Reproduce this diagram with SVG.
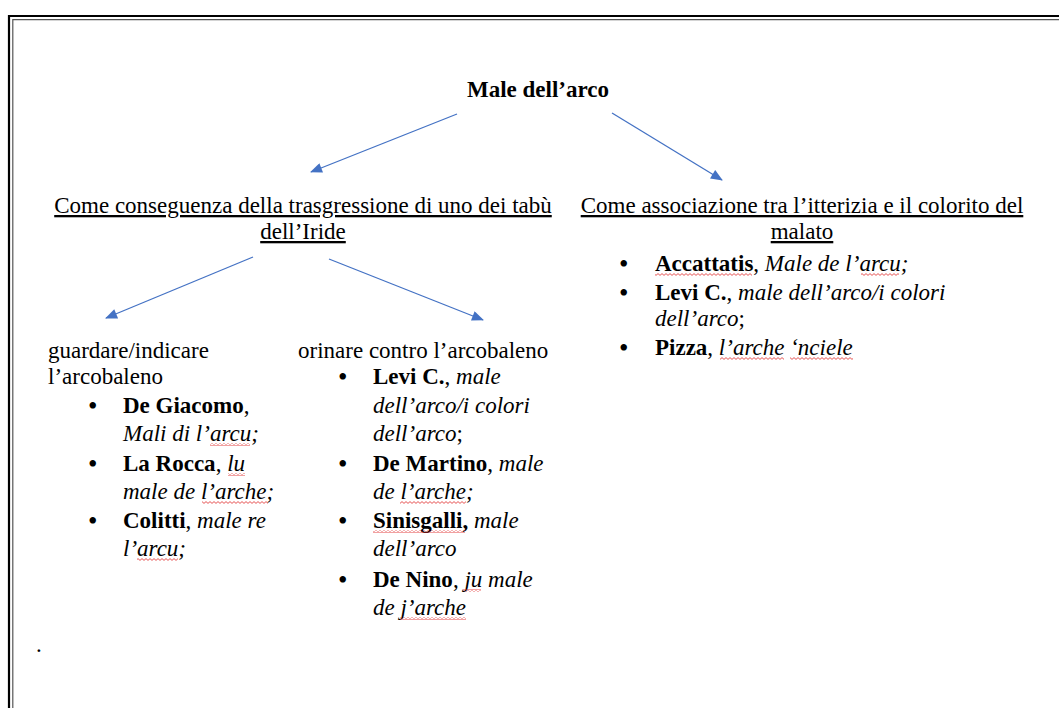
<svg xmlns="http://www.w3.org/2000/svg" width="1059" height="708" viewBox="0 0 1059 708">
<style>
text{font-family:"Liberation Serif","Times New Roman",serif;font-size:23px;fill:#000}
.b{font-weight:bold}
.i{font-style:italic}
.u{text-decoration:underline}
.bu{font-size:27px}
.arr{stroke:#4472c4;stroke-width:1.3;fill:none;marker-end:url(#ah)}
.wv{fill:url(#wave)}
</style>
<defs>
<marker id="ah" viewBox="0 0 12 10" refX="11" refY="5" markerWidth="13" markerHeight="10" markerUnits="userSpaceOnUse" orient="auto">
<path d="M0,0 L12,5 L0,10 Z" fill="#4472c4"/>
</marker>
<pattern id="wave" width="4" height="3" patternUnits="userSpaceOnUse">
<polyline points="0,2.4 2,0.6 4,2.4" fill="none" stroke="#e02828" stroke-width="0.8"/>
</pattern>
</defs>
<rect width="1059" height="708" fill="#fff"/>
<g id="frame">
<path d="M9,720 V16 H1070" fill="none" stroke="#000" stroke-width="2.2"/>
<path d="M12.8,720 V19.6 H1070" fill="none" stroke="#555" stroke-width="1.2"/>
</g>
<g id="connectors">
<line class="arr" x1="457" y1="114" x2="311" y2="172"/>
<line class="arr" x1="612" y1="113" x2="722" y2="180"/>
<line class="arr" x1="253" y1="257" x2="106" y2="318"/>
<line class="arr" x1="329" y1="259" x2="483" y2="320"/>
</g>
<g id="root">
<text class="b" x="538" y="97" text-anchor="middle">Male dell’arco</text>
</g>
<g id="tabu">
<text class="u" x="303" y="213" text-anchor="middle">Come conseguenza della trasgressione di uno dei tabù</text>
<text class="u" x="303" y="239" text-anchor="middle">dell’Iride</text>
</g>
<g id="itterizia">
<text class="u" x="802" y="213" text-anchor="middle">Come associazione tra l’itterizia e il colorito del</text>
<text class="u" x="802" y="239" text-anchor="middle">malato</text>
<text class="bu" x="619" y="273">•</text>
<text x="655" y="271"><tspan class="b">Accattatis</tspan>, <tspan class="i">Male de l’arcu;</tspan></text>
<text class="bu" x="619" y="302">•</text>
<text x="655" y="300"><tspan class="b">Levi C.</tspan>, <tspan class="i">male dell’arco/i colori</tspan></text>
<text x="655" y="326"><tspan class="i">dell’arco</tspan>;</text>
<text class="bu" x="619" y="357">•</text>
<text x="655" y="355"><tspan class="b">Pizza</tspan>, <tspan class="i">l’arche ‘nciele</tspan></text>
</g>
<g id="guardare">
<text x="48" y="358">guardare/indicare</text>
<text x="48" y="384">l’arcobaleno</text>
<text class="bu" x="88" y="415">•</text>
<text x="123" y="413"><tspan class="b">De Giacomo</tspan>,</text>
<text x="123" y="441" class="i">Mali di l’arcu;</text>
<text class="bu" x="88" y="473">•</text>
<text x="123" y="471"><tspan class="b">La Rocca</tspan>, <tspan class="i">lu</tspan></text>
<text x="123" y="499" class="i">male de l’arche;</text>
<text class="bu" x="88" y="530">•</text>
<text x="123" y="528"><tspan class="b">Colitti</tspan>, <tspan class="i">male re</tspan></text>
<text x="123" y="556" class="i">l’arcu;</text>
</g>
<g id="orinare">
<text x="298" y="358">orinare contro l’arcobaleno</text>
<text class="bu" x="338" y="386">•</text>
<text x="373" y="384"><tspan class="b">Levi C.</tspan>, <tspan class="i">male</tspan></text>
<text x="373" y="413" class="i">dell’arco/i colori</text>
<text x="373" y="441"><tspan class="i">dell’arco</tspan>;</text>
<text class="bu" x="338" y="473">•</text>
<text x="373" y="471"><tspan class="b">De Martino</tspan>, <tspan class="i">male</tspan></text>
<text x="373" y="499" class="i">de l’arche;</text>
<text class="bu" x="338" y="530">•</text>
<text x="373" y="528"><tspan class="b">Sinisgalli,</tspan> <tspan class="i">male</tspan></text>
<text x="373" y="556" class="i">dell’arco</text>
<text class="bu" x="338" y="589">•</text>
<text x="373" y="587"><tspan class="b">De Nino</tspan>, <tspan class="i">ju male</tspan></text>
<text x="373" y="615" class="i">de j’arche</text>
</g>
<g id="spellcheck">
<rect class="wv" x="655" y="273" width="97" height="3"/>
<rect class="wv" x="861" y="273" width="38" height="3"/>
<rect class="wv" x="720" y="357" width="64" height="3"/>
<rect class="wv" x="790" y="357" width="63" height="3"/>
<rect class="wv" x="210" y="443" width="40" height="3"/>
<rect class="wv" x="228" y="473" width="17" height="3"/>
<rect class="wv" x="202" y="501" width="66" height="3"/>
<rect class="wv" x="137" y="558" width="41" height="3"/>
<rect class="wv" x="400" y="501" width="66" height="3"/>
<rect class="wv" x="373" y="530" width="92" height="3"/>
<rect class="wv" x="463" y="589" width="18" height="3"/>
<rect class="wv" x="400" y="617" width="66" height="3"/>
</g>
<text x="36" y="652">.</text>
</svg>
